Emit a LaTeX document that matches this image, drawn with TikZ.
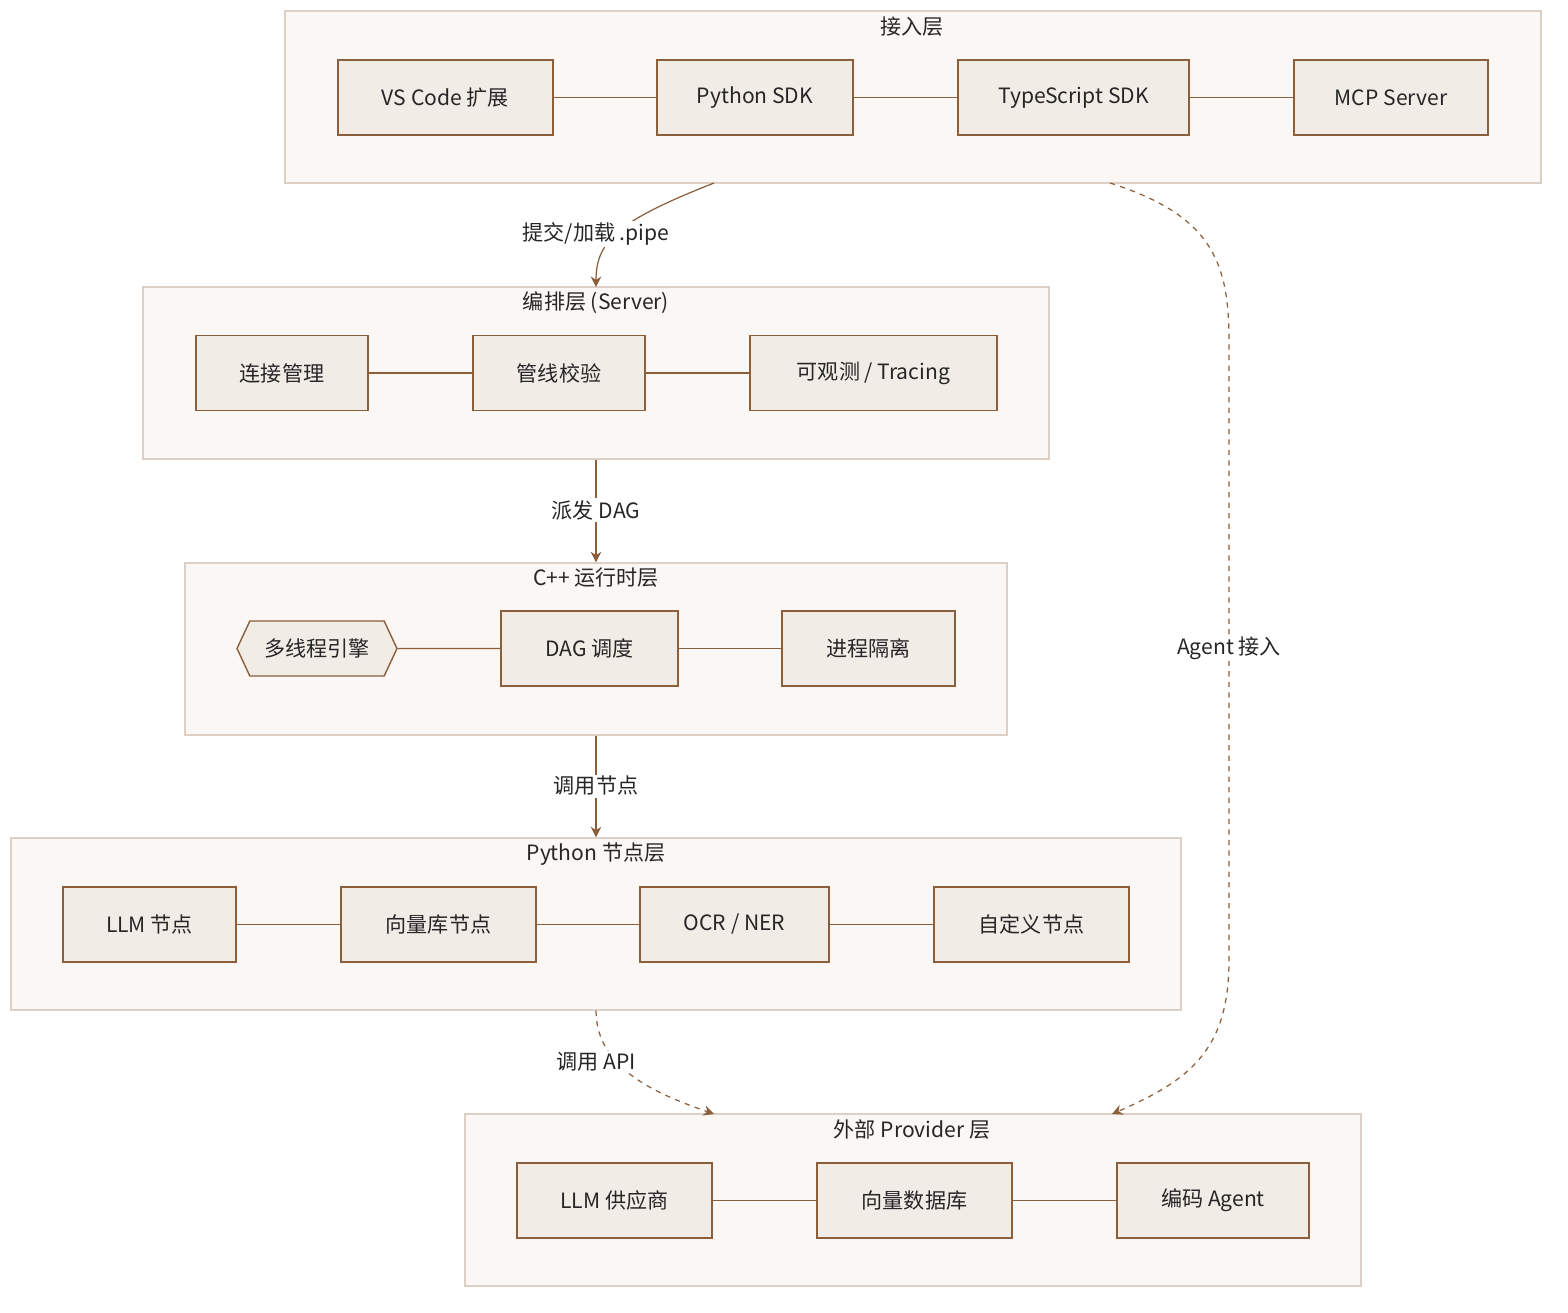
\documentclass[tikz,border=0pt]{standalone}
\usepackage{fontspec}
\setmainfont{Noto Sans CJK SC}
\usetikzlibrary{shapes.symbols,arrows.meta}
\definecolor{edgebrown}{HTML}{8B5E3C}
\definecolor{boxfill}{HTML}{F2ECE7}
\definecolor{clusterfill}{HTML}{FAF7F4}
\definecolor{clusterline}{HTML}{DCCFC6}
\tikzset{
	layerbox/.style={rectangle, draw=clusterline, fill=clusterfill, line width=0.8pt},
	compnode/.style={rectangle, draw=edgebrown, fill=boxfill, line width=0.8pt, font=\fontsize{12pt}{14pt}\selectfont, text=black!85},
	layertitle/.style={font=\fontsize{12pt}{14pt}\selectfont, text=black!85},
	flowlabel/.style={fill=white, font=\fontsize{12pt}{14pt}\selectfont, text=black!85, inner sep=1pt},
	link/.style={edgebrown, line width=0.7pt},
	flow/.style={edgebrown, line width=0.7pt, -{Stealth[length=6pt,width=6pt]}}
}
\begin{document}
\begin{tikzpicture}[x=0.02cm,y=-0.02cm]
		\useasboundingbox (0,0) rectangle (1568,1312);
		% layers
		\node[layerbox, minimum width=25.12cm, minimum height=3.44cm] (access) at (913,97) {};
		\node[layerbox, minimum width=18.12cm, minimum height=3.44cm] (orch) at (596,373) {};
		\node[layerbox, minimum width=16.44cm, minimum height=3.44cm] (runtime) at (596,649) {};
		\node[layerbox, minimum width=23.4cm, minimum height=3.44cm] (pynodes) at (596,924) {};
		\node[layerbox, minimum width=17.92cm, minimum height=3.44cm] (provider) at (913,1200) {};
		\node[layertitle] (accesst) at (912,27) {接入层};
		\node[layertitle] (orcht) at (596,303) {编排层 (Server)};
		\node[layertitle] (runtimet) at (596,578) {C++ 运行时层};
		\node[layertitle] (pynodest) at (596,854) {Python 节点层};
		\node[layertitle] (providert) at (912,1130) {外部 Provider 层};

		% access layer
		\node[compnode, minimum width=4.3cm, minimum height=1.5cm] (vscode) at (445.5,97.5) {VS Code 扩展};
		\node[compnode, minimum width=3.92cm, minimum height=1.5cm] (pysdk) at (755,97.5) {Python SDK};
		\node[compnode, minimum width=4.62cm, minimum height=1.5cm] (tssdk) at (1073.5,97.5) {TypeScript SDK};
		\node[compnode, minimum width=3.88cm, minimum height=1.5cm] (mcp) at (1391,97.5) {MCP Server};
		\draw[link] (vscode) -- (pysdk);
		\draw[link] (pysdk) -- (tssdk);
		\draw[link] (tssdk) -- (mcp);

		% orchestration layer
		\node[compnode, minimum width=3.44cm, minimum height=1.5cm] (conn) at (282,373) {连接管理};
		\node[compnode, minimum width=3.44cm, minimum height=1.5cm] (check) at (559,373) {管线校验};
		\node[compnode, minimum width=4.94cm, minimum height=1.5cm] (trace) at (873.5,373) {可观测 / Tracing};
		\draw[link] (conn) -- (check);
		\draw[link] (check) -- (trace);

		% runtime layer
		\node[compnode, shape=signal, signal to=west and east, signal pointer angle=130, minimum width=3.2cm, minimum height=1.1cm, inner xsep=2pt] (engine) at (317,648.5) {多线程引擎};
		\node[compnode, minimum width=3.54cm, minimum height=1.5cm] (dag) at (589.5,648.5) {DAG 调度};
		\node[compnode, minimum width=3.46cm, minimum height=1.5cm] (iso) at (868.5,648.5) {进程隔离};
		\draw[link] (engine) -- (dag);
		\draw[link] (dag) -- (iso);

		% python node layer
		\node[compnode, minimum width=3.46cm, minimum height=1.5cm] (llmnode) at (149.5,924.5) {LLM 节点};
		\node[compnode, minimum width=3.9cm, minimum height=1.5cm] (vecnode) at (438.5,924.5) {向量库节点};
		\node[compnode, minimum width=3.78cm, minimum height=1.5cm] (ocr) at (734.5,924.5) {OCR / NER};
		\node[compnode, minimum width=3.9cm, minimum height=1.5cm] (custom) at (1031.5,924.5) {自定义节点};
		\draw[link] (llmnode) -- (vecnode);
		\draw[link] (vecnode) -- (ocr);
		\draw[link] (ocr) -- (custom);

		% provider layer
		\node[compnode, minimum width=3.9cm, minimum height=1.5cm] (llmprov) at (614.5,1200.5) {LLM 供应商};
		\node[compnode, minimum width=3.9cm, minimum height=1.5cm] (vecdb) at (914.5,1200.5) {向量数据库};
		\node[compnode, minimum width=3.84cm, minimum height=1.5cm] (coder) at (1213,1200.5) {编码 Agent};
		\draw[link] (llmprov) -- (vecdb);
		\draw[link] (vecdb) -- (coder);

		% flows between layers
		\coordinate (a1) at (714,183);
		\coordinate (a2) at (596,287);
		\draw[flow] (a1) .. controls (620,220) and (596,240) .. (a2);
		\node[flowlabel] (l1) at (596,234) {提交/加载 .pipe};
		\draw[flow] (orch.south) -- (runtime.north);
		\node[flowlabel] (l2) at (596,510) {派发 DAG};
		\draw[flow] (runtime.south) -- (pynodes.north);
		\node[flowlabel] (l3) at (596,786) {调用节点};
		\coordinate (b1) at (714,1114);
		\draw[flow, dashed] (pynodes.south) .. controls (596,1070) and (660,1095) .. (b1);
		\node[flowlabel] (l4) at (596,1062) {调用 API};
		\coordinate (c1) at (1110,183);
		\coordinate (c2) at (1112,1114);
		\draw[flow, dashed] (c1) .. controls (1210,215) and (1229,260) .. (1229,340) -- (1229,960) .. controls (1229,1050) and (1190,1080) .. (c2);
		\node[flowlabel] (l5) at (1229,648) {Agent 接入};
\end{tikzpicture}
\end{document}
